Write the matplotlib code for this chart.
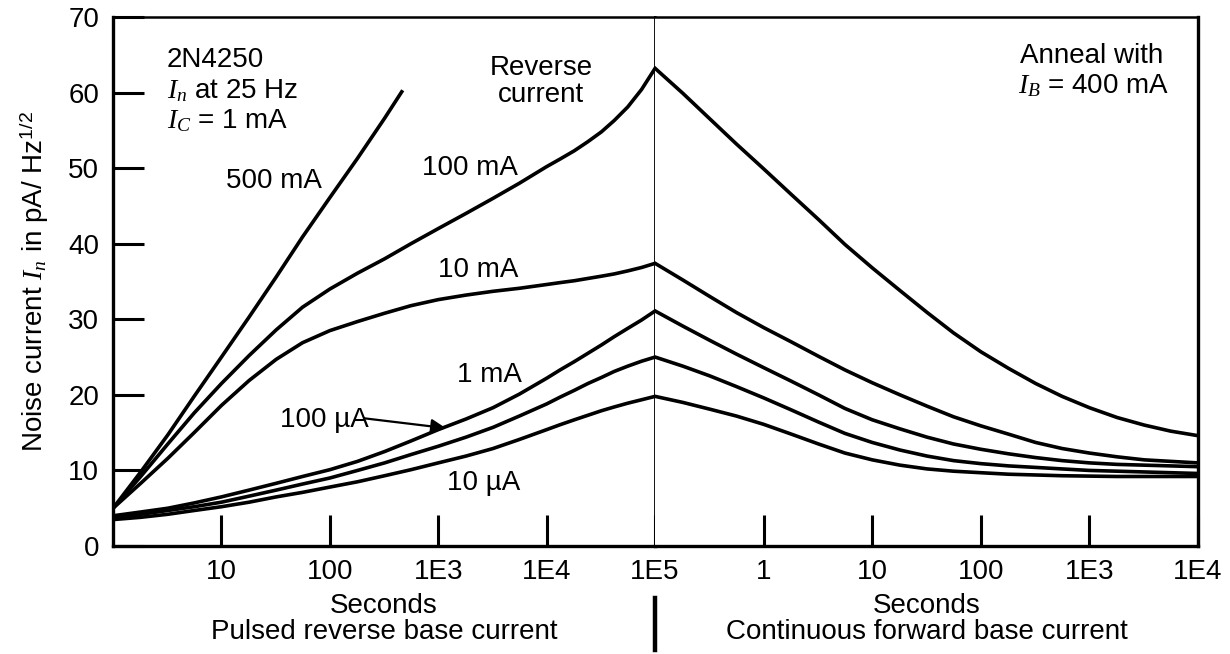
import numpy as np
import matplotlib.pyplot as plt
from matplotlib.lines import Line2D

plt.rcParams['font.family'] = ['Liberation Sans', 'DejaVu Sans']
plt.rcParams['mathtext.fontset'] = 'custom'
plt.rcParams['mathtext.rm'] = 'Liberation Sans'
plt.rcParams['mathtext.it'] = 'Liberation Serif:italic'
plt.rcParams['mathtext.bf'] = 'Liberation Sans:bold'

# --- data ---
# pulsed reverse base current, time in seconds
t_rev = [1, 1.8, 3.2, 5.6, 10, 18, 32, 56, 100, 180, 320, 560,
         1e3, 1.8e3, 3.2e3, 5.6e3, 1e4, 1.33e4, 1.8e4, 2.4e4, 3.2e4,
         4.2e4, 5.6e4, 7.5e4, 1e5]
t_rev_500mA = [1, 1.8, 3.2, 5.6, 10, 18, 32, 56, 100, 180, 320, 470]
rev_500mA = [5.0, 9.8, 14.7, 19.8, 25.0, 30.3, 35.6, 40.9, 46.1, 51.3, 56.6, 60.3]
rev_100mA = [5.0, 9.2, 13.5, 17.6, 21.5, 25.2, 28.6, 31.6, 34.0, 36.1, 38.0,
             40.0, 42.0, 44.0, 46.0, 48.0, 50.2, 51.2, 52.3, 53.5, 54.8,
             56.3, 58.1, 60.4, 63.2]
rev_10mA = [5.0, 8.3, 11.6, 15.0, 18.6, 21.9, 24.7, 26.9, 28.5, 29.7, 30.8,
            31.8, 32.6, 33.2, 33.7, 34.1, 34.6, 34.85, 35.1, 35.4, 35.7,
            36.0, 36.4, 36.85, 37.4]
rev_1mA = [4.0, 4.5, 5.0, 5.7, 6.5, 7.4, 8.3, 9.2, 10.1, 11.2, 12.5,
           13.9, 15.4, 16.8, 18.3, 20.1, 22.2, 23.3, 24.4, 25.5, 26.6,
           27.7, 28.8, 29.9, 31.1]
rev_100uA = [3.8, 4.2, 4.7, 5.2, 5.8, 6.6, 7.4, 8.2, 9.0, 10.0, 11.0,
             12.1, 13.2, 14.4, 15.7, 17.2, 18.8, 19.7, 20.6, 21.5, 22.3,
             23.1, 23.8, 24.45, 25.0]
rev_10uA = [3.5, 3.8, 4.2, 4.7, 5.2, 5.8, 6.5, 7.1, 7.8, 8.5, 9.3,
            10.1, 11.0, 11.9, 12.9, 14.1, 15.4, 16.05, 16.7, 17.3, 17.9,
            18.4, 18.9, 19.35, 19.8]

# continuous forward base current (anneal), time in seconds
t_fwd = [0.1, 0.18, 0.32, 0.56, 1, 1.8, 3.2, 5.6, 10, 18, 32, 56,
         100, 180, 320, 560, 1e3, 1.8e3, 3.2e3, 5.6e3, 1e4]
fwd_100mA = [63.2, 59.9, 56.5, 53.2, 49.9, 46.5, 43.2, 39.9, 36.8, 33.8, 30.9,
             28.2, 25.7, 23.5, 21.5, 19.8, 18.3, 17.0, 16.0, 15.2, 14.6]
fwd_10mA = [37.4, 35.2, 33.0, 30.9, 28.9, 27.0, 25.1, 23.3, 21.6, 20.0, 18.5,
            17.1, 15.9, 14.8, 13.7, 12.9, 12.3, 11.8, 11.4, 11.2, 11.0]
fwd_1mA = [31.1, 29.1, 27.2, 25.4, 23.6, 21.8, 20.0, 18.2, 16.7, 15.5, 14.4,
           13.5, 12.8, 12.2, 11.7, 11.3, 11.0, 10.8, 10.7, 10.6, 10.5]
fwd_100uA = [25.0, 23.8, 22.5, 21.1, 19.6, 18.0, 16.4, 14.9, 13.7, 12.7, 11.9,
             11.3, 10.9, 10.6, 10.4, 10.2, 10.0, 9.9, 9.8, 9.7, 9.6]
fwd_10uA = [19.8, 19.0, 18.1, 17.2, 16.1, 14.8, 13.5, 12.3, 11.4, 10.7, 10.2,
            9.9, 9.7, 9.5, 9.4, 9.3, 9.25, 9.2, 9.2, 9.2, 9.2]

rev_ticks = [10, 100, 1e3, 1e4, 1e5]
rev_ticklabels = ['10', '100', '1E3', '1E4', '1E5']
fwd_ticks = [1, 10, 100, 1e3, 1e4]
fwd_ticklabels = ['1', '10', '100', '1E3', '1E4']
y_ticks = [0, 10, 20, 30, 40, 50, 60, 70]

fig = plt.figure(figsize=(12.3, 6.54), dpi=100)
ax1 = fig.add_axes([0.0919, 0.1651, 0.4407, 0.809])
ax2 = fig.add_axes([0.5326, 0.1651, 0.4414, 0.809], sharey=ax1)

style = dict(color='black', lw=2.6, solid_joinstyle='round')
ax1.plot(t_rev_500mA, rev_500mA, solid_capstyle='butt', **style)
for vals in [rev_100mA, rev_10mA, rev_1mA, rev_100uA, rev_10uA]:
    ax1.plot(t_rev, vals, **style)
for vals in [fwd_100mA, fwd_10mA, fwd_1mA, fwd_100uA, fwd_10uA]:
    ax2.plot(t_fwd, vals, **style)

for ax in (ax1, ax2):
    ax.set_xscale('log')
    ax.minorticks_off()
    ax.tick_params(axis='both', direction='in', length=22, width=2.2,
                   labelsize=20, colors='black')
    ax.tick_params(axis='x', pad=9)
    for s in ax.spines.values():
        s.set_linewidth(2.4)
    ax.spines['top'].set_linewidth(1.8)

ax1.set_xlim(1, 1e5)
ax2.set_xlim(0.1, 1e4)
ax1.set_ylim(0, 70)
ax1.set_yticks(y_ticks)
ax1.tick_params(axis='y', pad=10)
ax1.set_xticks(rev_ticks)
ax1.set_xticklabels(rev_ticklabels)
ax2.set_xticks(fwd_ticks)
ax2.set_xticklabels(fwd_ticklabels)
ax1.spines['right'].set_linewidth(1.3)
ax2.spines['left'].set_visible(False)
ax2.tick_params(axis='y', left=False, labelleft=False)

ax1.set_ylabel(r'Noise current $I_n$ in pA/ Hz$^{1/2}$', fontsize=20, labelpad=12)
ax1.set_xlabel('Seconds\nPulsed reverse base current', fontsize=20,
               linespacing=1.0, labelpad=6)
ax2.set_xlabel('Seconds\nContinuous forward base current', fontsize=20,
               linespacing=1.0, labelpad=6)

fs = 20
ax1.text(3.15, 63.4, '2N4250', fontsize=fs, va='baseline')
ax1.text(3.15, 59.3, r'$I_n$ at 25 Hz', fontsize=fs, va='baseline')
ax1.text(3.15, 55.3, r'$I_C$ = 1 mA', fontsize=fs, va='baseline')
ax1.text(30.5, 47.4, '500 mA', fontsize=fs, ha='center', va='baseline')
ax1.text(1960, 49.1, '100 mA', fontsize=fs, ha='center', va='baseline')
ax1.text(2330, 35.6, '10 mA', fontsize=fs, ha='center', va='baseline')
ax1.text(2950, 21.7, '1 mA', fontsize=fs, ha='center', va='baseline')
ax1.text(2640, 7.4, '10 µA', fontsize=fs, ha='center', va='baseline')
ax1.text(35, 15.7, '100 µA', fontsize=fs, va='baseline')
ax1.annotate('', xy=(1175, 15.6), xytext=(207, 16.9),
             arrowprops=dict(arrowstyle='-|>', lw=1.6, color='black',
                             mutation_scale=22, shrinkA=0, shrinkB=0))
ax1.text(8900, 61.5, 'Reverse\ncurrent', fontsize=fs, ha='center', va='center',
         linespacing=1.05)
ax2.text(229, 63.9, 'Anneal with', fontsize=fs, va='baseline')
ax2.text(220, 59.9, r'$I_B$ = 400 mA', fontsize=fs, va='baseline')

# divider mark under the axis between the two time ranges
xdiv = ax1.get_position().x1
fig.add_artist(Line2D([xdiv, xdiv], [1 - 598 / 654, 1 - 650 / 654],
                      transform=fig.transFigure, color='black', lw=3.2))

fig.savefig('out.png', dpi=100)
